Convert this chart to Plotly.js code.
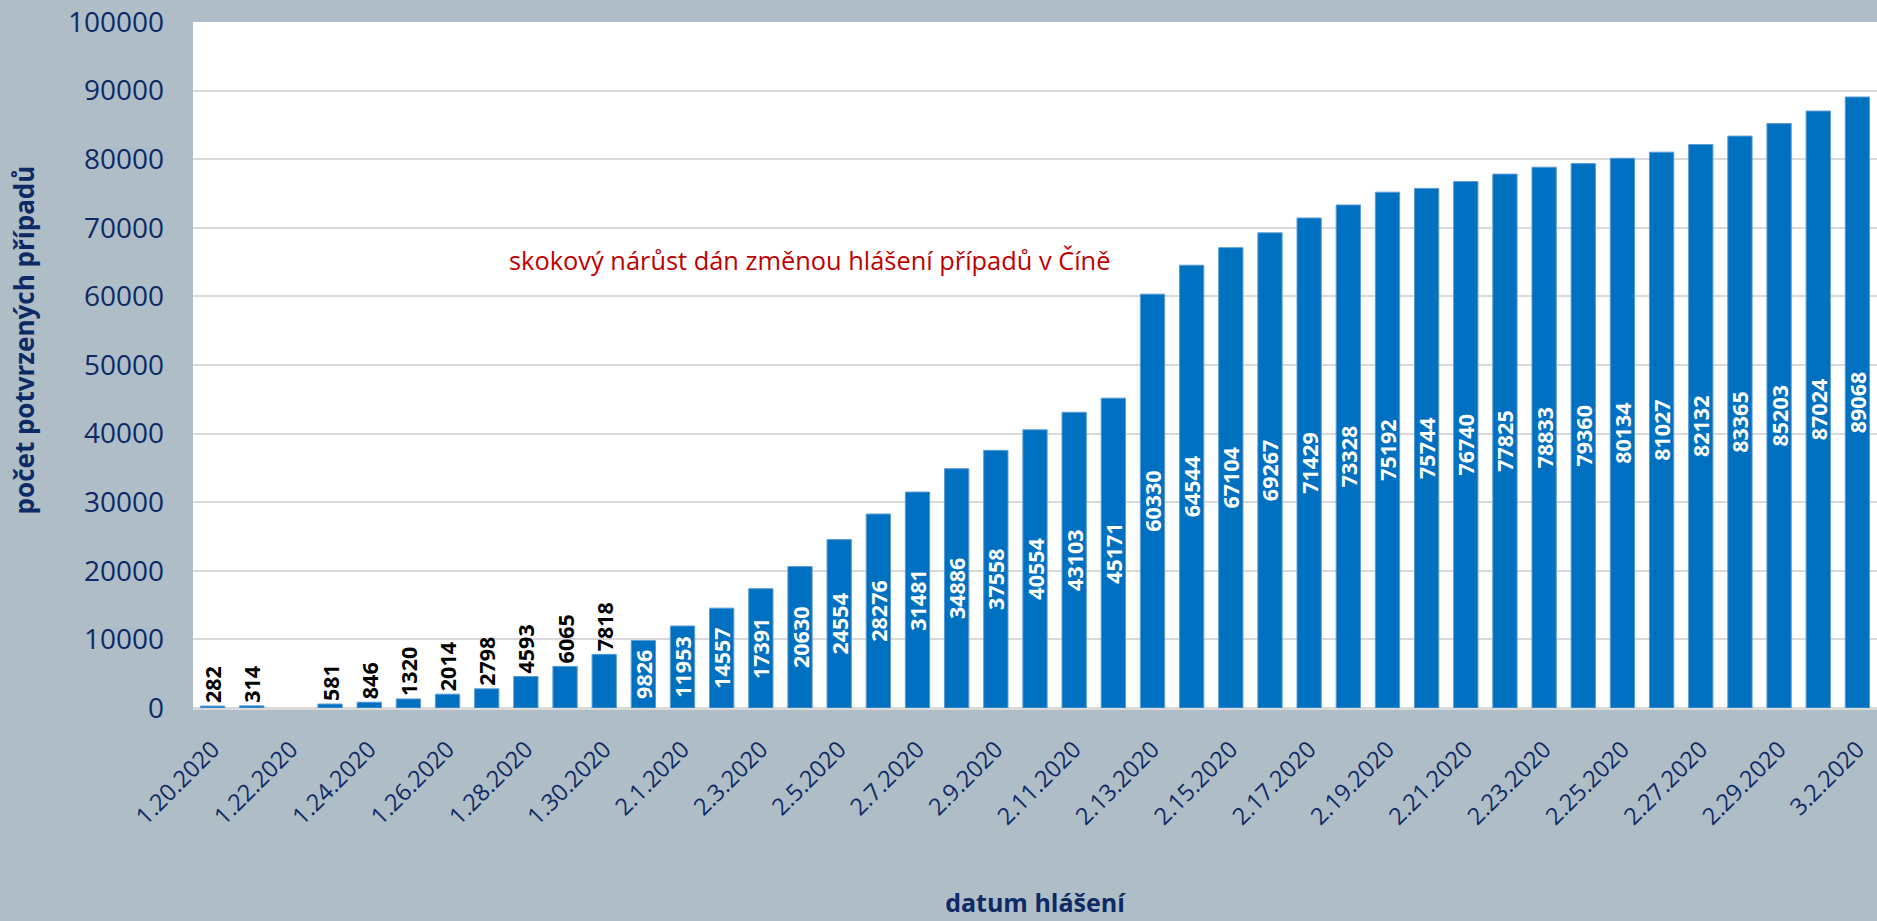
<!DOCTYPE html>
<html>
<head>
<meta charset="utf-8">
<script src="https://cdn.plot.ly/plotly-3.0.1.min.js"></script>
<style>html,body{margin:0;padding:0;background:#aebdc6;}#chart{width:1877px;height:921px;}</style>
</head>
<body>
<div id="chart"></div>
<script>
const dates = ["1.20.2020","1.21.2020","1.22.2020","1.23.2020","1.24.2020","1.25.2020","1.26.2020","1.27.2020","1.28.2020","1.29.2020","1.30.2020","1.31.2020",
  "2.1.2020","2.2.2020","2.3.2020","2.4.2020","2.5.2020","2.6.2020","2.7.2020","2.8.2020","2.9.2020","2.10.2020","2.11.2020","2.12.2020","2.13.2020","2.14.2020",
  "2.15.2020","2.16.2020","2.17.2020","2.18.2020","2.19.2020","2.20.2020","2.21.2020","2.22.2020","2.23.2020","2.24.2020","2.25.2020","2.26.2020","2.27.2020",
  "2.28.2020","2.29.2020","3.1.2020","3.2.2020"];
const cases = [282,314,null,581,846,1320,2014,2798,4593,6065,7818,9826,
  11953,14557,17391,20630,24554,28276,31481,34886,37558,40554,43103,45171,60330,64544,
  67104,69267,71429,73328,75192,75744,76740,77825,78833,79360,80134,81027,82132,
  83365,85203,87024,89068];
const tickDates = dates.filter((d,i)=>i%2===0);
const yTicks = [0,10000,20000,30000,40000,50000,60000,70000,80000,90000,100000];
const noteText = "skokový nárůst dán změnou hlášení případů v Číně";
const xTitle = "datum hlášení";
const yTitle = "počet potvrzených případů";

const navy = '#0e2a66';
const labels = cases.map(v => v == null ? '' : String(v));
const positions = cases.map(v => (v != null && v < 9000) ? 'outside' : 'inside');

const trace = {
  type: 'bar',
  x: dates,
  y: cases,
  text: labels,
  textposition: positions,
  textangle: -90,
  insidetextanchor: 'middle',
  constraintext: 'none',
  cliponaxis: false,
  insidetextfont: {family: 'Open Sans', size: 21.5, color: '#ffffff', weight: 'bold'},
  outsidetextfont: {family: 'Open Sans', size: 21.5, color: '#000000', weight: 'bold'},
  marker: {color: '#0070c0', line: {color: '#5b9bd5', width: 1}},
  hoverinfo: 'x+y'
};

const layout = {
  width: 1877, height: 921,
  margin: {l: 193, r: 0, t: 22, b: 213},
  paper_bgcolor: '#aebdc6',
  plot_bgcolor: '#ffffff',
  showlegend: false,
  bargap: 0.38,
  font: {family: 'Open Sans', color: navy},
  xaxis: {
    type: 'category',
    tickmode: 'array',
    tickvals: tickDates,
    ticktext: tickDates,
    tickangle: -45,
    tickfont: {family: 'Open Sans', size: 23.5, color: navy},
    ticks: '',
    ticklabelstandoff: 22,
    showgrid: false,
    showline: false,
    zeroline: false,
    title: {text: xTitle, font: {family: 'Open Sans', size: 25, color: navy, weight: 'bold'}, standoff: 64}
  },
  yaxis: {
    range: [0, 100000],
    tickmode: 'array',
    tickvals: yTicks,
    ticktext: yTicks.map(String),
    tickfont: {family: 'Open Sans', size: 28, color: navy},
    ticks: '',
    ticklabelstandoff: 28,
    showgrid: true,
    gridcolor: '#d9d9d9',
    gridwidth: 2,
    zeroline: true,
    zerolinecolor: '#d9d9d9',
    zerolinewidth: 3,
    showline: false
  },
  annotations: [
    {text: noteText, xref: 'paper', yref: 'y', x: 0.366, y: 65300, showarrow: false,
     font: {family: 'Open Sans', size: 25.4, color: '#c00000'}, xanchor: 'center', yanchor: 'middle'},
    {text: yTitle, xref: 'paper', yref: 'paper', x: -0.1003, y: 0.536, showarrow: false, textangle: -90,
     font: {family: 'Open Sans', size: 26, color: navy, weight: 'bold'}, xanchor: 'center', yanchor: 'middle'}
  ]
};

Plotly.newPlot('chart', [trace], layout, {displayModeBar: false, staticPlot: true});
</script>
</body>
</html>
